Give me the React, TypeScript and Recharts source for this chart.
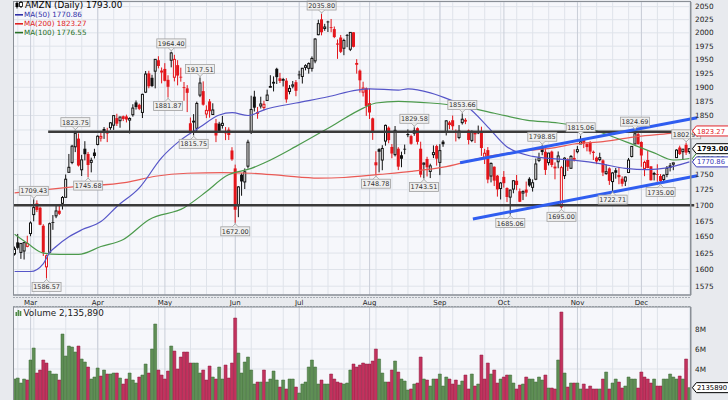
import React from 'react';
import {
  ComposedChart,
  Bar,
  Line,
  XAxis,
  YAxis,
  CartesianGrid,
  ReferenceLine,
  ReferenceDot,
  Cell,
} from 'recharts';

// trading days, 2019
const monthDays: [number, number[]][] = [
  [2, [22, 25, 26, 27, 28]],
  [3, [1, 4, 5, 6, 7, 8, 11, 12, 13, 14, 15, 18, 19, 20, 21, 22, 25, 26, 27, 28, 29]],
  [4, [1, 2, 3, 4, 5, 8, 9, 10, 11, 12, 15, 16, 17, 18, 22, 23, 24, 25, 26, 29, 30]],
  [5, [1, 2, 3, 6, 7, 8, 9, 10, 13, 14, 15, 16, 17, 20, 21, 22, 23, 24, 28, 29, 30, 31]],
  [6, [3, 4, 5, 6, 7, 10, 11, 12, 13, 14, 17, 18, 19, 20, 21, 24, 25, 26, 27, 28]],
  [7, [1, 2, 3, 5, 8, 9, 10, 11, 12, 15, 16, 17, 18, 19, 22, 23, 24, 25, 26, 29, 30, 31]],
  [8, [1, 2, 5, 6, 7, 8, 9, 12, 13, 14, 15, 16, 19, 20, 21, 22, 23, 26, 27, 28, 29, 30]],
  [9, [3, 4, 5, 6, 9, 10, 11, 12, 13, 16, 17, 18, 19, 20, 23, 24, 25, 26, 27, 30]],
  [10, [1, 2, 3, 4, 7, 8, 9, 10, 11, 14, 15, 16, 17, 18, 21, 22, 23, 24, 25, 28, 29, 30, 31]],
  [11, [1, 4, 5, 6, 7, 8, 11, 12, 13, 14, 15, 18, 19, 20, 21, 22, 25, 26, 27, 29]],
  [12, [2, 3, 4, 5, 6, 9, 10, 11, 12, 13, 16, 17, 18, 19, 20, 23]],
];

const opens = [
  1623.5, 1641.45, 1625.98, 1628.18, 1635.25,
  1655.13, 1685.0, 1702.95, 1695.97, 1667.37, 1604.01, 1626.12, 1673.1, 1683.0, 1691.2, 1703.0, 1712.7, 1753.51, 1769.94, 1796.26, 1810.17, 1757.79, 1793.0, 1784.13, 1770.0, 1786.58,
  1800.11, 1811.02, 1826.72, 1820.65, 1829.0, 1833.23, 1845.49, 1841.0, 1848.7, 1848.4, 1842.0, 1851.35, 1872.99, 1868.79, 1855.4, 1891.2, 1925.0, 1917.0, 1929.0, 1949.0, 1930.1,
  1933.09, 1913.33, 1949.0, 1917.98, 1939.99, 1918.87, 1900.0, 1898.0, 1836.56, 1839.76, 1827.95, 1885.94, 1893.05, 1852.69, 1874.79, 1851.78, 1836.59, 1835.89, 1832.75, 1823.12, 1825.49, 1790.01,
  1760.01, 1699.24, 1749.6, 1737.71, 1763.7, 1822.0, 1883.25, 1853.98, 1866.72, 1864.0, 1876.5, 1901.35, 1907.84, 1933.33, 1916.1, 1912.66, 1911.84, 1892.48, 1902.0, 1909.1,
  1922.98, 1919.38, 1935.89, 1934.12, 1934.12, 1947.8, 1996.51, 2025.62, 2008.27, 2021.4, 2010.58, 2007.05, 1980.01, 1991.21, 1971.14, 1995.99, 1969.3, 2001.0, 1942.0, 1930.0, 1891.12, 1898.11,
  1871.72, 1845.07, 1770.22, 1792.23, 1773.99, 1806.0, 1828.95, 1795.99, 1783.0, 1793.01, 1781.99, 1792.89, 1818.08, 1814.5, 1819.39, 1828.0, 1793.03, 1766.91, 1775.73, 1755.0, 1783.0, 1797.49,
  1770.0, 1805.0, 1821.95, 1838.0, 1841.79, 1822.75, 1812.14, 1837.63, 1842.52, 1824.02, 1807.08, 1821.53, 1821.02, 1821.71, 1777.0, 1790.61, 1747.36, 1762.79, 1748.0, 1726.99,
  1746.0, 1727.74, 1713.0, 1726.02, 1739.65, 1722.56, 1719.61, 1725.24, 1742.92, 1728.91, 1742.14, 1773.33, 1796.49, 1787.8, 1769.66, 1788.15, 1761.3, 1771.09, 1697.55, 1748.06, 1774.81, 1760.24, 1775.99,
  1788.01, 1801.01, 1809.16, 1801.0, 1803.76, 1787.89, 1778.0, 1774.66, 1773.39, 1751.43, 1760.05, 1738.3, 1756.99, 1749.14, 1743.0, 1739.02, 1753.25, 1779.92, 1801.0, 1817.78,
  1804.4, 1760.0, 1774.01, 1763.5, 1751.2, 1750.66, 1747.4, 1741.67, 1750.0, 1765.0, 1767.0, 1778.01, 1795.02, 1788.0, 1799.62, 1788.26,
];

const highs = [
  1634.94, 1654.6, 1639.99, 1641.81, 1651.77,
  1674.26, 1709.43, 1707.8, 1697.75, 1669.75, 1622.72, 1672.29, 1684.27, 1700.0, 1702.0, 1714.75, 1750.0, 1784.16, 1799.5, 1823.75, 1818.98, 1782.68, 1805.77, 1787.5, 1777.93, 1792.86,
  1815.67, 1820.0, 1830.0, 1828.75, 1838.58, 1850.2, 1853.09, 1848.0, 1849.95, 1851.5, 1846.85, 1869.77, 1876.47, 1870.82, 1888.42, 1929.26, 1929.69, 1922.45, 1951.0, 1956.34, 1935.71,
  1943.64, 1921.55, 1964.4, 1959.0, 1949.1, 1935.37, 1909.4, 1903.79, 1846.54, 1852.44, 1874.43, 1917.51, 1910.53, 1867.78, 1879.0, 1871.49, 1844.0, 1839.08, 1849.27, 1830.0, 1829.47, 1795.59,
  1766.29, 1730.82, 1752.0, 1760.0, 1808.28, 1884.87, 1893.7, 1865.0, 1883.09, 1876.0, 1895.69, 1921.67, 1919.58, 1935.2, 1925.95, 1916.86, 1916.39, 1903.8, 1911.24, 1912.94,
  1929.82, 1934.79, 1941.59, 1945.0, 1956.0, 1990.01, 2024.94, 2035.8, 2017.0, 2022.9, 2026.32, 2012.0, 1987.5, 1996.0, 1989.0, 1997.79, 2001.3, 2001.2, 1950.9, 1932.0, 1909.89, 1899.55,
  1897.92, 1846.36, 1788.67, 1793.77, 1798.93, 1834.26, 1831.09, 1800.98, 1831.74, 1795.65, 1788.0, 1800.0, 1826.0, 1816.82, 1829.58, 1829.41, 1804.9, 1770.0, 1779.4, 1767.86, 1798.55, 1799.74,
  1800.8, 1807.63, 1842.0, 1840.65, 1850.0, 1825.81, 1833.42, 1853.66, 1845.45, 1825.69, 1823.99, 1822.5, 1832.58, 1830.63, 1792.7, 1795.71, 1769.86, 1763.37, 1749.12, 1737.46,
  1755.6, 1728.89, 1725.0, 1740.58, 1749.2, 1727.0, 1724.0, 1738.29, 1745.45, 1741.89, 1776.45, 1786.24, 1798.85, 1793.98, 1785.88, 1789.78, 1770.05, 1788.34, 1764.21, 1778.7, 1777.0, 1782.39, 1792.0,
  1797.45, 1815.06, 1810.25, 1802.5, 1805.9, 1789.88, 1780.0, 1786.22, 1775.0, 1766.59, 1761.68, 1753.7, 1760.68, 1762.52, 1746.87, 1746.8, 1777.42, 1797.03, 1824.69, 1822.7,
  1805.55, 1772.87, 1789.09, 1763.5, 1754.4, 1766.89, 1750.67, 1750.0, 1764.0, 1768.99, 1769.5, 1792.0, 1798.2, 1792.0, 1802.97, 1793.0,
];

const lows = [
  1621.17, 1630.39, 1616.13, 1615.1, 1633.84,
  1651.0, 1674.36, 1689.01, 1668.28, 1620.51, 1586.57, 1626.01, 1660.98, 1679.35, 1684.34, 1693.13, 1712.63, 1753.51, 1767.03, 1787.28, 1763.11, 1747.5, 1773.36, 1745.68, 1753.47, 1776.63,
  1798.73, 1805.12, 1809.62, 1804.2, 1825.19, 1825.11, 1831.78, 1828.81, 1840.31, 1838.0, 1818.9, 1848.0, 1860.44, 1859.48, 1845.64, 1889.58, 1898.16, 1900.31, 1898.0, 1934.09, 1906.95,
  1910.55, 1881.87, 1936.0, 1910.5, 1903.38, 1910.0, 1876.0, 1856.0, 1818.0, 1815.75, 1822.0, 1882.29, 1867.33, 1845.51, 1846.24, 1851.0, 1804.2, 1820.0, 1827.35, 1807.53, 1807.82, 1772.7,
  1672.0, 1680.89, 1715.25, 1726.13, 1759.95, 1818.0, 1857.0, 1844.38, 1862.22, 1859.0, 1875.45, 1899.79, 1892.47, 1905.8, 1907.58, 1901.3, 1872.42, 1887.32, 1898.04, 1884.0,
  1914.66, 1906.63, 1930.5, 1924.51, 1928.25, 1943.48, 1995.4, 1995.3, 2003.87, 2001.55, 2001.22, 1990.0, 1951.55, 1962.23, 1958.26, 1973.13, 1965.87, 1972.72, 1924.51, 1890.54, 1883.48, 1849.44,
  1844.01, 1808.02, 1748.78, 1753.4, 1757.0, 1798.11, 1802.22, 1777.0, 1780.0, 1757.22, 1761.96, 1783.79, 1812.61, 1799.88, 1815.0, 1800.1, 1745.23, 1743.51, 1746.68, 1744.05, 1777.25, 1764.57,
  1748.91, 1796.23, 1815.58, 1826.4, 1824.61, 1805.34, 1809.08, 1834.28, 1835.0, 1800.2, 1804.1, 1802.7, 1817.9, 1780.92, 1767.32, 1735.55, 1737.0, 1731.0, 1713.82, 1709.22,
  1728.41, 1705.0, 1685.06, 1719.23, 1724.13, 1705.0, 1708.25, 1713.75, 1729.86, 1722.0, 1740.62, 1770.52, 1782.02, 1749.2, 1765.0, 1762.0, 1742.0, 1760.27, 1695.0, 1742.5, 1755.81, 1759.12, 1771.48,
  1785.21, 1801.01, 1794.0, 1788.58, 1783.48, 1774.04, 1767.13, 1771.91, 1747.32, 1749.56, 1732.86, 1722.71, 1743.03, 1734.0, 1730.36, 1731.0, 1753.24, 1778.35, 1801.0, 1800.0,
  1762.68, 1747.23, 1760.22, 1740.0, 1740.13, 1738.0, 1735.0, 1735.71, 1745.44, 1755.0, 1757.06, 1777.39, 1782.36, 1774.06, 1782.45, 1784.51,
];

const closes = [
  1631.56, 1633.0, 1639.83, 1641.09, 1639.83,
  1671.73, 1696.17, 1692.43, 1668.95, 1625.95, 1620.8, 1670.62, 1673.1, 1690.81, 1686.22, 1712.36, 1742.15, 1761.85, 1797.27, 1819.26, 1764.77, 1774.26, 1783.76, 1765.7, 1773.42, 1780.75,
  1814.19, 1813.98, 1820.7, 1818.86, 1837.28, 1849.86, 1835.84, 1847.33, 1844.07, 1843.06, 1844.87, 1863.04, 1864.82, 1861.69, 1887.31, 1923.77, 1901.75, 1902.25, 1950.63, 1938.43, 1926.52,
  1911.52, 1900.82, 1962.46, 1950.55, 1921.0, 1917.77, 1899.87, 1889.98, 1822.68, 1840.12, 1871.15, 1907.57, 1869.0, 1858.97, 1857.52, 1859.68, 1815.48, 1823.28, 1836.43, 1819.19, 1816.32, 1775.07,
  1692.69, 1729.56, 1738.5, 1754.36, 1804.03, 1860.63, 1863.7, 1855.32, 1870.3, 1869.67, 1886.03, 1901.37, 1908.79, 1918.19, 1911.3, 1913.9, 1878.27, 1897.83, 1904.28, 1893.63,
  1922.19, 1934.31, 1939.0, 1942.91, 1952.32, 1988.3, 2017.41, 2001.07, 2011.0, 2020.99, 2009.9, 1992.03, 1977.9, 1964.52, 1985.63, 1994.49, 2000.81, 1973.82, 1943.05, 1912.45, 1898.53, 1866.78,
  1855.32, 1823.24, 1765.13, 1787.83, 1793.4, 1832.89, 1807.58, 1784.92, 1824.34, 1762.96, 1776.12, 1792.57, 1816.12, 1801.38, 1823.54, 1804.66, 1749.62, 1768.87, 1761.83, 1764.25, 1786.4, 1776.29,
  1789.84, 1800.62, 1840.72, 1833.51, 1831.35, 1820.55, 1822.99, 1843.55, 1839.34, 1807.84, 1822.55, 1817.46, 1821.5, 1794.16, 1785.3, 1741.61, 1768.33, 1739.84, 1725.45, 1735.91,
  1735.65, 1713.23, 1724.42, 1739.65, 1732.66, 1705.51, 1721.99, 1720.26, 1731.92, 1736.43, 1767.38, 1777.43, 1787.48, 1757.51, 1785.66, 1765.73, 1762.17, 1780.78, 1761.33, 1777.08, 1762.71, 1779.99, 1776.66,
  1791.44, 1804.66, 1801.71, 1795.77, 1788.2, 1785.88, 1771.65, 1778.0, 1753.11, 1754.6, 1739.49, 1752.53, 1752.79, 1745.53, 1734.71, 1745.72, 1773.84, 1796.94, 1818.51, 1800.8,
  1781.6, 1769.96, 1760.69, 1740.48, 1751.6, 1749.51, 1739.21, 1748.72, 1760.33, 1760.94, 1769.21, 1790.66, 1784.03, 1792.28, 1786.5, 1793.0,
];

// volume in millions of shares
const volumes = [
  3.0, 3.1, 2.6, 3.0, 2.9,
  4.9, 6.1, 3.6, 3.9, 4.9, 4.6, 3.8, 3.5, 3.5, 2.9, 7.5, 5.3, 6.3, 6.2, 5.7, 6.3, 5.0, 4.7, 4.2, 3.0, 3.2,
  4.1, 3.3, 3.9, 3.5, 3.5, 3.6, 3.6, 3.1, 2.5, 3.0, 3.6, 2.9, 2.6, 3.2, 3.4, 4.5, 3.6, 6.0, 8.5, 3.9, 3.4,
  3.0, 3.8, 6.3, 5.8, 4.0, 5.2, 5.7, 5.7, 4.6, 4.6, 4.6, 3.6, 3.9, 2.9, 4.3, 3.2, 3.0, 4.2, 3.0, 4.4, 3.1, 4.6,
  9.1, 5.6, 3.6, 4.7, 5.2, 3.9, 2.5, 2.7, 2.7, 3.9, 2.7, 3.0, 3.8, 2.9, 2.2, 2.9, 2.0, 3.0, 3.0, 2.2,
  1.6, 2.5, 2.7, 4.2, 4.9, 4.2, 2.5, 2.9, 2.5, 2.5, 3.5, 3.0, 2.7, 2.6, 2.5, 2.6, 3.9, 4.5, 4.2, 4.4, 4.6,
  4.5, 4.5, 4.8, 6.0, 5.0, 3.6, 2.7, 2.7, 3.9, 4.8, 3.7, 3.0, 2.8, 1.9, 2.0, 2.5, 2.6, 5.2, 3.0, 2.9, 2.3, 3.0,
  3.0, 3.5, 2.3, 3.2, 3.0, 2.5, 2.9, 2.4, 2.8, 3.4, 2.0, 3.5, 2.3, 2.5, 5.4, 3.0, 4.6, 3.5, 3.9, 2.6,
  3.0, 3.2, 3.4, 3.4, 2.6, 2.0, 2.4, 2.5, 3.2, 3.0, 3.0, 2.7, 3.2, 2.9, 3.4, 2.1, 2.1, 2.0, 4.9, 9.7, 3.6, 2.2, 2.6,
  2.6, 2.6, 2.0, 2.5, 2.0, 2.3, 2.0, 2.0, 2.0, 3.0, 3.7, 2.0, 2.6, 3.0, 2.7, 2.1, 2.3, 3.2, 3.0, 3.0,
  2.1, 3.7, 3.2, 3.0, 2.6, 3.0, 2.3, 2.3, 3.0, 3.0, 3.5, 3.2, 3.0, 3.3, 3.0, 5.0, 2.13589,
];

// moving averages at [day index, value]
const ma50Pts: [number, number][] = [
  [0, 1597], [5, 1597], [9, 1609], [11, 1626], [13, 1635], [17, 1650], [21, 1661], [27, 1674], [32, 1698],
  [39, 1728], [46, 1778], [52, 1808], [58, 1830], [64, 1851], [68, 1855], [73, 1850], [78, 1860], [88, 1872],
  [98, 1883], [107, 1895], [111, 1897], [120, 1895], [123, 1897], [130, 1890], [136, 1878], [142, 1863],
  [148, 1830], [154, 1796], [162, 1780], [169, 1776], [176, 1773], [183, 1768], [191, 1760], [198, 1758],
  [204, 1761], [211, 1770.86],
];
const ma100Pts: [number, number][] = [
  [0, 1654], [4, 1640], [9, 1625], [14, 1623], [20, 1623], [27, 1635], [34, 1646], [42, 1677], [53, 1696],
  [60, 1722], [66, 1747], [74, 1760], [78, 1769], [88, 1797], [99, 1831], [109, 1863], [113, 1872], [120, 1875],
  [130, 1872], [140, 1866], [150, 1854], [160, 1842], [170, 1837], [181, 1825], [191, 1805], [200, 1786],
  [206, 1774], [211, 1776.55],
];
const ma200Pts: [number, number][] = [
  [0, 1720], [19, 1730], [35, 1737], [44, 1747], [54, 1752], [65, 1753], [74, 1752], [84, 1748], [95, 1744],
  [103, 1745], [114, 1750], [124, 1755], [135, 1763], [148, 1780], [159, 1789], [169, 1795], [175, 1801],
  [184, 1805], [195, 1814], [205, 1819], [211, 1823.27],
];

const priceTicks = [1575, 1600, 1625, 1650, 1675, 1700, 1725, 1750, 1775, 1800, 1825, 1850, 1875, 1900, 1925, 1950, 1975, 2000, 2025, 2050];
// tick labels covered by the last-value boxes
const hiddenPriceLabels = [1775, 1800, 1825];
const volTicks = [2, 4, 6, 8];
const hiddenVolLabels = [2];
const monthLabels = ['Mar', 'Apr', 'May', 'Jun', 'Jul', 'Aug', 'Sep', 'Oct', 'Nov', 'Dec'];

const notes = [
  { i: 6, v: 1709.43, up: true },
  { i: 10, v: 1586.57, up: false },
  { i: 19, v: 1823.75, up: true },
  { i: 23, v: 1745.68, up: false },
  { i: 48, v: 1881.87, up: false },
  { i: 49, v: 1964.4, up: true },
  { i: 56, v: 1815.75, up: false },
  { i: 58, v: 1917.51, up: true },
  { i: 69, v: 1672.0, up: false },
  { i: 96, v: 2035.8, up: true },
  { i: 113, v: 1748.78, up: false },
  { i: 125, v: 1829.58, up: true },
  { i: 128, v: 1743.51, up: false },
  { i: 140, v: 1853.66, up: true },
  { i: 155, v: 1685.06, up: false },
  { i: 165, v: 1798.85, up: true },
  { i: 171, v: 1695.0, up: false },
  { i: 177, v: 1815.06, up: true },
  { i: 187, v: 1722.71, up: false },
  { i: 194, v: 1824.69, up: true },
  { i: 202, v: 1735.0, up: false },
  { i: 210, v: 1802.97, up: true },
];

const lastBoxes = [
  { v: 1823.27, color: '#e3262b', bold: false },
  { v: 1776.55, color: '#2f8a2f', bold: false },
  { v: 1770.86, color: '#3a3ab8', bold: false },
  { v: 1793.0, color: '#000', bold: true },
];

const FONT = 'DejaVu Sans';
const RED = '#e3151b';
const BLACK = '#111';
const BLUE_MA = '#5656c8';
const RED_MA = '#ea5a55';
const GREEN_MA = '#4c9a4c';
const TREND = '#2f5df0';
const PLOT_BG = '#f6f7fb';
const GRID = '#dfe3ea';
const MONTH_GRID = '#c9ced8';

const dates = monthDays.flatMap(([m, ds]) => ds.map((d) => new Date(2019, m - 1, d)));
const n = dates.length;
const monthStarts = dates.map((d, i) => (i > 0 && d.getMonth() !== dates[i - 1].getMonth() ? i : -1)).filter((i) => i >= 0);
const weekStarts = dates.map((d, i) => (i > 0 && d.getDay() < dates[i - 1].getDay() ? i : -1)).filter((i) => i >= 0);

const m50 = new Map(ma50Pts);
const m100 = new Map(ma100Pts);
const m200 = new Map(ma200Pts);

const rows = dates.map((_, i) => ({
  i,
  open: opens[i],
  high: highs[i],
  low: lows[i],
  close: closes[i],
  prev: i > 0 ? closes[i - 1] : opens[i],
  range: [lows[i], highs[i]],
  vol: volumes[i],
  ma50: m50.get(i) ?? null,
  ma100: m100.get(i) ?? null,
  ma200: m200.get(i) ?? null,
}));

function Candle(props: any) {
  const { x, y, width, height, payload } = props;
  if (x == null || y == null || !payload) return null;
  const top = Math.min(y, y + height);
  const h = Math.abs(height);
  const cx = x + width / 2;
  const { open, close, high, low, prev } = payload;
  const lh = Math.log(high);
  const span = lh - Math.log(low);
  const py = (p: number) => (span > 0 ? top + ((lh - Math.log(p)) / span) * h : top);
  const color = close < prev ? RED : BLACK;
  const yo = py(open);
  const yc = py(close);
  const bTop = Math.min(yo, yc);
  const bH = Math.max(Math.abs(yo - yc), 0.8);
  return (
    <g>
      <line x1={cx} x2={cx} y1={top} y2={top + Math.max(h, 0.8)} stroke={color} strokeWidth={1} />
      {close > open ? (
        <rect x={cx - 1} y={bTop} width={2} height={bH} fill="#fff" stroke={color} strokeWidth={1} />
      ) : (
        <rect x={cx - 1.5} y={bTop} width={3} height={bH} fill={color} />
      )}
    </g>
  );
}

function NoteBox(props: any) {
  const { cx, cy, text, up } = props;
  if (cx == null || cy == null) return null;
  const w = 29;
  const h = 9;
  const by = up ? cy - 4 - h : cy + 4;
  const tipY = up ? by + h : by;
  return (
    <g>
      <line x1={cx} x2={cx} y1={cy} y2={tipY} stroke="#999" strokeWidth={0.8} />
      <rect x={cx - w / 2} y={by} width={w} height={h} fill="#efefef" stroke="#a0a0a0" strokeWidth={0.8} />
      <polyline
        points={up ? `${cx - 3},${by + h} ${cx},${by + h + 3} ${cx + 3},${by + h}` : `${cx - 3},${by} ${cx},${by - 3} ${cx + 3},${by}`}
        fill="#efefef"
        stroke="#a0a0a0"
        strokeWidth={0.8}
      />
      <text x={cx} y={by + 7} textAnchor="middle" fontSize={6.5} fontFamily={FONT} fill="#333">
        {text}
      </text>
    </g>
  );
}

function ValueBox(props: any) {
  const { cx, cy, text, color, bold } = props;
  if (cx == null || cy == null) return null;
  const x0 = cx + 3;
  return (
    <g>
      <polygon
        points={`${x0},${cy} ${x0 + 4},${cy - 5} ${x0 + 38},${cy - 5} ${x0 + 38},${cy + 5} ${x0 + 4},${cy + 5}`}
        fill="#fff"
        stroke={color}
        strokeWidth={1}
      />
      <text x={x0 + 4.5} y={cy + 2.6} fontSize={bold ? 6.9 : 6.8} fontWeight={bold ? 'bold' : 'normal'} fontFamily={FONT} fill={color}>
        {text}
      </text>
    </g>
  );
}

function MonthTick(props: any) {
  const { x, y, payload } = props;
  const k = monthStarts.indexOf(payload.value);
  return (
    <text x={x} y={y + 9.5} textAnchor="middle" fontSize={7} fontFamily={FONT} fill="#222">
      {k >= 0 ? monthLabels[k] : ''}
    </text>
  );
}

function SideTick(props: any) {
  const { x, y, payload, hidden, suffix } = props;
  if (hidden.includes(payload.value)) return null;
  return (
    <text x={x} y={y + 2.6} fontSize={7.3} fontFamily={FONT} fill="#222">
      {payload.value}
      {suffix}
    </text>
  );
}

export default function App() {
  return (
    <div style={{ position: 'fixed', left: 0, top: 0, width: 728, height: 400, overflow: 'hidden', background: '#e8eaee' }}>
      <div style={{ position: 'absolute', left: 0, top: 0 }}>
        <ComposedChart width={728} height={306} data={rows} margin={{ top: 2, right: 0, left: 13, bottom: 0 }}>
          <CartesianGrid fill={PLOT_BG} stroke={GRID} verticalValues={weekStarts} />
          <CartesianGrid horizontal={false} stroke={MONTH_GRID} verticalValues={monthStarts} />
          <XAxis
            type="number"
            dataKey="i"
            domain={[-0.5, n - 0.5]}
            ticks={monthStarts}
            interval={0}
            height={11}
            tickSize={0}
            tickMargin={0}
            tickLine={false}
            axisLine={{ stroke: '#8a8f96' }}
            tick={<MonthTick />}
            allowDataOverflow
          />
          <YAxis
            orientation="right"
            scale="log"
            domain={[1562, 2059]}
            ticks={priceTicks}
            interval={0}
            width={37}
            tickSize={2}
            tickMargin={2}
            tickLine={false}
            axisLine={{ stroke: '#8a8f96' }}
            tick={<SideTick hidden={hiddenPriceLabels} suffix="" />}
            allowDataOverflow
          />
          <Bar dataKey="range" barSize={3} shape={<Candle />} isAnimationActive={false} />
          <Line dataKey="ma200" type="monotone" stroke={RED_MA} strokeWidth={1.2} dot={false} connectNulls isAnimationActive={false} />
          <Line dataKey="ma100" type="monotone" stroke={GREEN_MA} strokeWidth={1.2} dot={false} connectNulls isAnimationActive={false} />
          <Line dataKey="ma50" type="monotone" stroke={BLUE_MA} strokeWidth={1.2} dot={false} connectNulls isAnimationActive={false} />
          <ReferenceLine segment={[{ x: 10.5, y: 1822 }, { x: 212.5, y: 1822 }]} stroke="#3a3a3a" strokeWidth={2.5} ifOverflow="visible" />
          <ReferenceLine segment={[{ x: -0.5, y: 1700 }, { x: 212.5, y: 1700 }]} stroke="#3a3a3a" strokeWidth={2.5} ifOverflow="visible" />
          <ReferenceLine segment={[{ x: 139.3, y: 1769.4 }, { x: 213.4, y: 1846 }]} stroke={TREND} strokeWidth={3} ifOverflow="visible" />
          <ReferenceLine segment={[{ x: 143.3, y: 1678 }, { x: 213.4, y: 1748 }]} stroke={TREND} strokeWidth={3} ifOverflow="visible" />
          {notes.map((nt) => (
            <ReferenceDot
              key={nt.i}
              x={nt.i}
              y={nt.v}
              r={0}
              ifOverflow={nt.i === 210 ? 'hidden' : 'visible'}
              shape={(p: any) => <NoteBox {...p} text={nt.v.toFixed(2)} up={nt.up} />}
            />
          ))}
          {lastBoxes.map((b) => (
            <ReferenceDot
              key={b.v}
              x={n - 1}
              y={b.v}
              r={0}
              ifOverflow="visible"
              shape={(p: any) => <ValueBox {...p} text={b.v.toFixed(2)} color={b.color} bold={b.bold} />}
            />
          ))}
        </ComposedChart>
      </div>

      <div style={{ position: 'absolute', left: 0, top: 300 }}>
        <ComposedChart width={728} height={120} data={rows} margin={{ top: 7, right: 0, left: 13, bottom: 11 }}>
          <CartesianGrid fill={PLOT_BG} stroke={GRID} verticalValues={weekStarts} />
          <CartesianGrid horizontal={false} stroke={MONTH_GRID} verticalValues={monthStarts} />
          <XAxis type="number" dataKey="i" domain={[-0.5, n - 0.5]} hide allowDataOverflow />
          <YAxis
            orientation="right"
            domain={[0, 10.2]}
            ticks={volTicks}
            interval={0}
            width={37}
            tickSize={2}
            tickMargin={2}
            tickLine={false}
            axisLine={{ stroke: '#8a8f96' }}
            tick={<SideTick hidden={hiddenVolLabels} suffix="M" />}
            allowDataOverflow
          />
          <Bar dataKey="vol" barSize={3} isAnimationActive={false}>
            {rows.map((r) => (
              <Cell
                key={r.i}
                fill={r.close < r.prev ? '#c3325e' : '#5f8f55'}
                stroke={r.close < r.prev ? '#8e1a3e' : '#3d6836'}
                strokeWidth={0.5}
              />
            ))}
          </Bar>
          <ReferenceDot
            x={n - 1}
            y={volumes[n - 1]}
            r={0}
            ifOverflow="visible"
            shape={(p: any) => <ValueBox {...p} text={String(Math.round(volumes[n - 1] * 1e6))} color="#000" bold={false} />}
          />
        </ComposedChart>
      </div>

      <svg width={728} height={400} style={{ position: 'absolute', left: 0, top: 0, pointerEvents: 'none' }} fontFamily={FONT}>
        <rect x={13.5} y={1.5} width={677} height={293.5} fill="none" stroke="#8a8f96" strokeWidth={1} />
        <line x1={13} x2={691} y1={297.5} y2={297.5} stroke="#a7acb3" strokeDasharray="2 1" />
        <line x1={13} x2={691} y1={306.5} y2={306.5} stroke="#a7acb3" strokeDasharray="2 1" />
        <rect x={13.5} y={307} width={677} height={110} fill="none" stroke="#8a8f96" strokeWidth={1} />

        <g>
          <line x1={17} x2={17} y1={1.5} y2={8.5} stroke="#000" />
          <rect x={15.5} y={3} width={3} height={4} fill="#000" />
          <line x1={21} x2={21} y1={1} y2={8} stroke="#000" />
          <rect x={19.5} y={2.5} width={3} height={4} fill="#fff" stroke="#000" strokeWidth={0.8} />
        </g>
        <text x={25} y={8.4} fontSize={8.8} fill="#000">AMZN (Daily) 1793.00</text>

        <line x1={15} x2={23} y1={14.8} y2={14.8} stroke="#3030a8" strokeWidth={1.6} />
        <text x={24} y={17.3} fontSize={7.2} fill="#3030a8">MA(50) 1770.86</text>
        <line x1={15} x2={23} y1={23.8} y2={23.8} stroke="#e02020" strokeWidth={1.6} />
        <text x={24} y={26.3} fontSize={7.2} fill="#e02020">MA(200) 1823.27</text>
        <line x1={15} x2={23} y1={32.6} y2={32.6} stroke="#267026" strokeWidth={1.6} />
        <text x={24} y={35.1} fontSize={7.2} fill="#267026">MA(100) 1776.55</text>

        <g>
          <rect x={15.5} y={312} width={1.6} height={4} fill="#4f8a45" />
          <rect x={17.6} y={310} width={1.6} height={6} fill="#4f8a45" />
          <rect x={19.7} y={311} width={1.6} height={5} fill="#4f8a45" />
        </g>
        <text x={23.5} y={316} fontSize={8.8} fill="#222">Volume 2,135,890</text>
      </svg>
    </div>
  );
}
